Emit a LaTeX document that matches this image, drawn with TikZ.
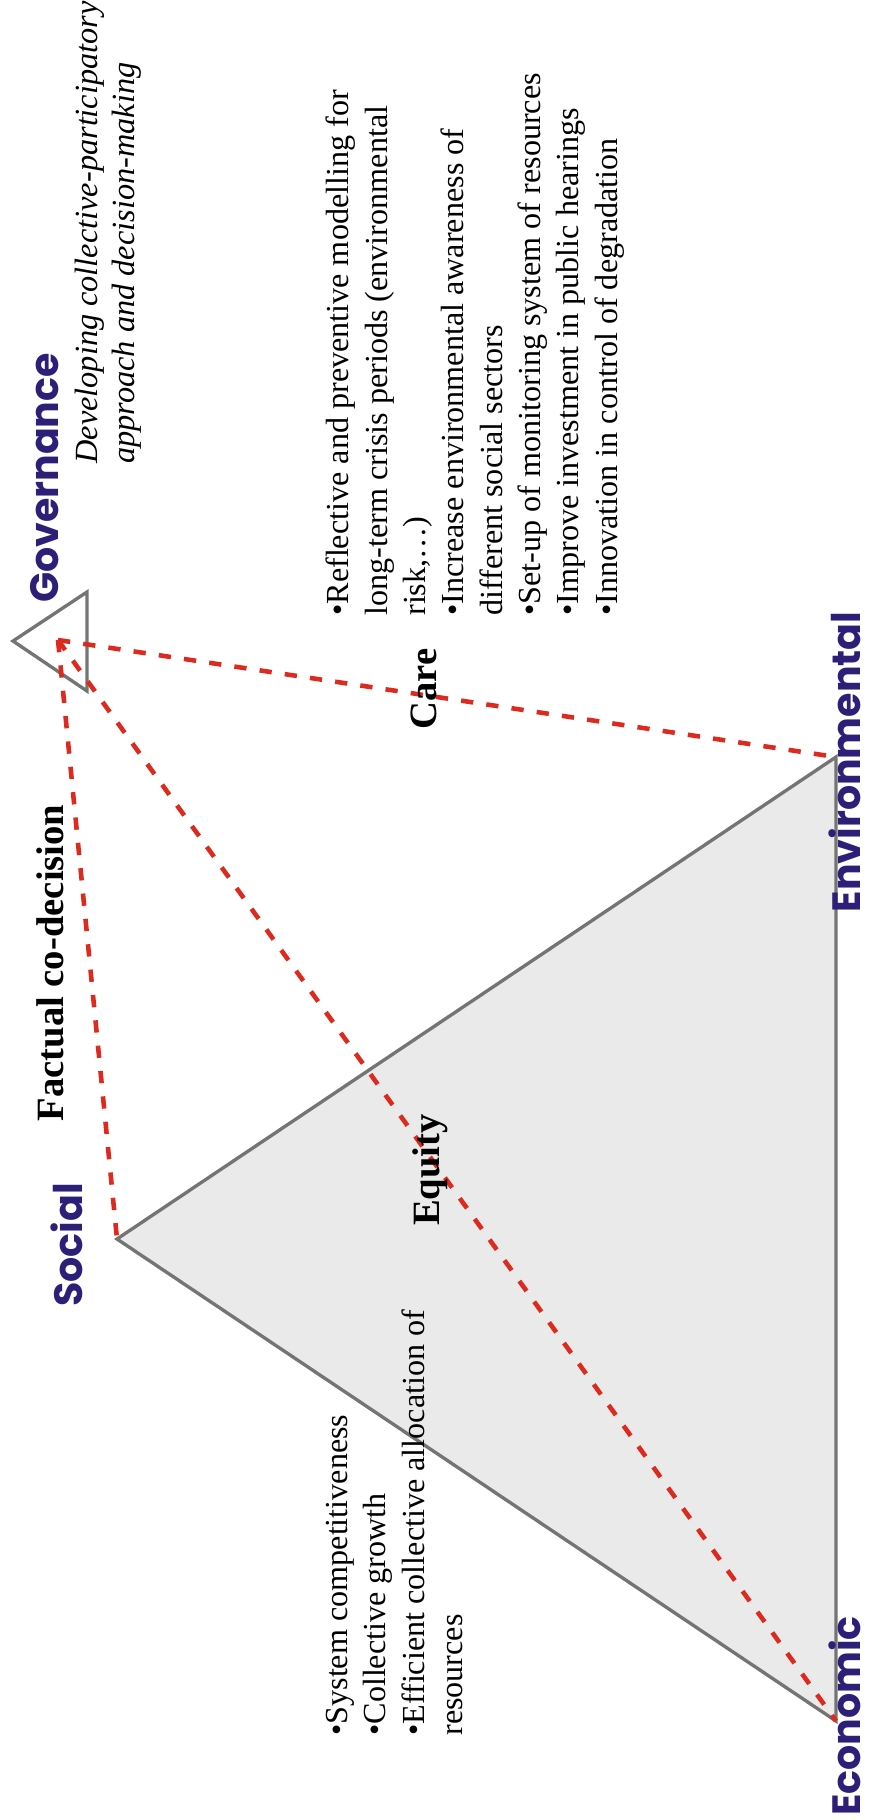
\documentclass[tikz,border=0pt]{standalone}
\usepackage{fontspec}
\setmainfont{Liberation Serif}
\newfontfamily\cornerfont{Poppins}
\usetikzlibrary{positioning}
\definecolor{cornerColor}{HTML}{2B1F78}
\definecolor{edgeGray}{HTML}{747474}
\definecolor{fillGray}{HTML}{EAEAEA}
\definecolor{linkRed}{HTML}{DD2A1E}

\begin{document}
\begin{tikzpicture}[
    x=0.02cm, y=-0.02cm,
    corner/.style={rotate=90, inner sep=0pt, text=cornerColor, font=\cornerfont\bfseries\fontsize{22.5}{27}\selectfont},
    theme/.style={rotate=90, inner sep=0pt, font=\bfseries\fontsize{22}{26}\selectfont},
    bullets/.style={rotate=90, anchor=north west, align=left, inner sep=0pt, font=\fontsize{18.3}{21.8}\selectfont},
    aim/.style={rotate=90, anchor=north west, align=left, inner sep=0pt, font=\itshape\fontsize{18.4}{21}\selectfont},
    side/.style={draw=edgeGray, line width=1.9pt, line join=miter},
    link/.style={draw=linkRed, line width=2.6pt, dash pattern=on 7pt off 7.5pt},
  ]
  \useasboundingbox (0,0) rectangle (875,1820);

  % Corners
  \coordinate (soc) at (117,1239);
  \coordinate (env) at (836,757);
  \coordinate (eco) at (836,1721);
  \coordinate (gov) at (58,640);
  \coordinate (govL) at (13,641);
  \coordinate (govT) at (87,592);
  \coordinate (govB) at (87,691);

  % Triangles
  \fill[fillGray] (soc) -- (env) -- (eco) -- cycle;
  \draw[side] (soc) -- (env) -- (eco) -- cycle;
  \draw[side] (govL) -- (govT) -- (govB) -- cycle;

  % Links to governance
  \draw[link] (gov) -- (env);
  \draw[link] (gov) -- (soc);
  \draw[link] (gov) -- (eco);

  % Corner labels
  \node[corner] (govLabel) at (45,478)   {Governance};
  \node[corner] (socLabel) at (67,1245)  {Social};
  \node[corner] (envLabel) at (845,762)  {Environmental};
  \node[corner] (ecoLabel) at (845,1716) {Economic};

  % Side labels
  \node[theme] (care)   at (424,689)  {Care};
  \node[theme] (codec)  at (50,963)   {Factual co-decision};
  \node[theme] (equity) at (430,1170) {Equity};

  % Texts
  \node[aim] (govAim) at (75,464)
    {Developing collective-participatory\\approach and decision-making};
  \node[bullets] (envList) at (326,616)
    {\textbullet Reflective and preventive modelling for\\
     long-term crisis periods (environmental\\
     risk,…)\\
     \textbullet Increase environmental awareness of\\
     different social sectors\\
     \textbullet Set-up of monitoring system of resources\\
     \textbullet Improve investment in public hearings\\
     \textbullet Innovation in control of degradation};
  \node[bullets] (ecoList) at (326,1736)
    {\textbullet System competitiveness\\
     \textbullet Collective growth\\
     \textbullet Efficient collective allocation of\\
     resources};

\end{tikzpicture}
\end{document}
